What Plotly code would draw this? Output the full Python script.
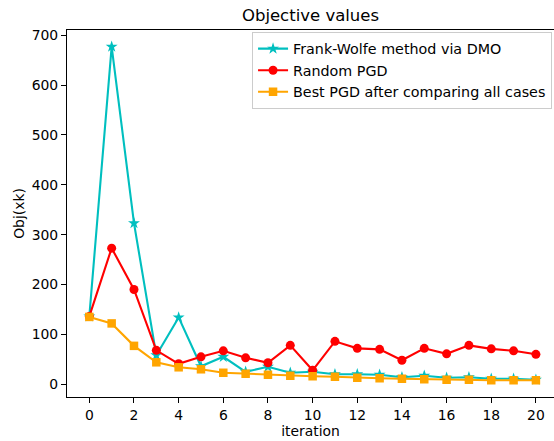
import plotly.graph_objects as go

iterations = list(range(21))
fw_dmo = [136, 677, 323, 58, 134, 36, 55, 25, 35, 23, 25, 20, 20, 19, 14, 17, 13, 14, 11, 11, 9]
random_pgd = [136, 273, 190, 68, 41, 55, 67, 53, 43, 78, 28, 86, 72, 70, 48, 72, 61, 78, 71, 67, 60]
best_pgd = [135, 122, 77, 44, 34, 30, 23, 21, 19, 17, 16, 15, 13, 12, 11, 10, 9, 9, 8, 8, 8]

fig = go.Figure()
fig.add_trace(go.Scatter(x=iterations, y=fw_dmo, mode="lines+markers",
                         name="Frank-Wolfe method via DMO",
                         line=dict(color="#00bfbf", width=2.1),
                         marker=dict(symbol="star", size=9, color="#00bfbf")))
fig.add_trace(go.Scatter(x=iterations, y=random_pgd, mode="lines+markers",
                         name="Random PGD",
                         line=dict(color="#ff0000", width=2.1),
                         marker=dict(symbol="circle", size=9, color="#ff0000")))
fig.add_trace(go.Scatter(x=iterations, y=best_pgd, mode="lines+markers",
                         name="Best PGD after comparing all cases",
                         line=dict(color="#ffa500", width=2.1),
                         marker=dict(symbol="square", size=8.5, color="#ffa500")))

W, H = 554, 441
font = "DejaVu Sans"
fig.update_layout(
    width=W, height=H,
    margin=dict(l=67, r=0, t=30, b=44, autoexpand=False),
    paper_bgcolor="white", plot_bgcolor="white",
    font=dict(family=font, size=14, color="black"),
    title=dict(text="Objective values", x=0.5, xref="paper", xanchor="center",
               y=1 - 9 / H, yanchor="top", font=dict(size=16.5, family=font)),
    showlegend=True,
    legend=dict(x=0.996, y=0.995, xanchor="right", yanchor="top",
                bgcolor="rgba(255,255,255,0.8)", bordercolor="#cccccc", borderwidth=1,
                font=dict(size=14.3, family=font), tracegroupgap=0),
)
fig.update_xaxes(range=[-1, 20.81], tickmode="array", tickvals=list(range(0, 21, 2)),
                 showgrid=False, zeroline=False, showline=True, linecolor="black", linewidth=1.1,
                 mirror=True, ticks="outside", ticklen=5, tickcolor="black", automargin=False,
                 title=dict(text="iteration", font=dict(size=13.9), standoff=4),
                 tickfont=dict(size=13.9))
fig.update_yaxes(range=[-25.6, 710.5], tickmode="array", tickvals=list(range(0, 701, 100)),
                 showgrid=False, zeroline=False, showline=True, linecolor="black", linewidth=1.1,
                 mirror=True, ticks="outside", ticklen=5, tickcolor="black", automargin=False,
                 title=dict(text="Obj(xk)", font=dict(size=13.9), standoff=3),
                 tickfont=dict(size=13.9))

# Remove the default page margin so the figure fills the 554x441 window exactly.
fig.write_html("out.html",
               config={"displayModeBar": False},
               post_script="document.body.style.margin='0';document.body.style.overflow='hidden';")
